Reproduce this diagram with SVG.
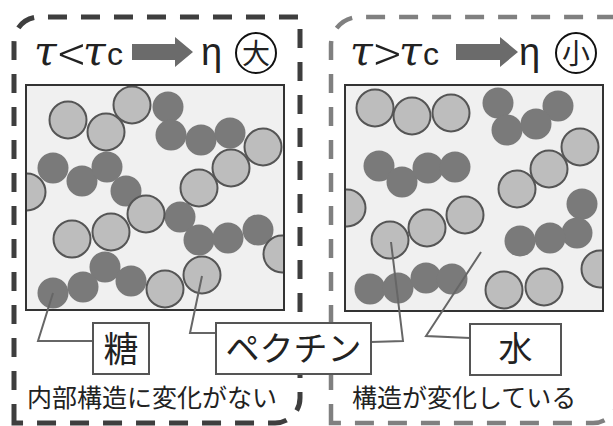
<svg xmlns="http://www.w3.org/2000/svg" width="613" height="426" viewBox="0 0 613 426">
<defs>
<style>
.frameL{fill:none;stroke:#3e3e3e;stroke-width:5;stroke-dasharray:19 14}
.frameR{fill:none;stroke:#808080;stroke-width:4.5;stroke-dasharray:19 14}
.box{fill:#f0f0f0;stroke:#333;stroke-width:2}
.p{fill:#bdbdbd;stroke:#555;stroke-width:2}
.s{fill:#7a7a7a}
.lbl{fill:#fff;stroke:#555;stroke-width:2}
.conn{fill:none;stroke:#666;stroke-width:2}
.jp{font-family:"Noto Sans CJK JP","Noto Sans",sans-serif;fill:#222}
.tau{font-family:"DejaVu Serif","Liberation Serif",serif;font-style:italic;font-size:41px;fill:#222}
.op{font-family:"Noto Sans CJK JP","Noto Sans",sans-serif;font-weight:300;font-size:50px;fill:#222}
.sans{font-family:"Liberation Sans",sans-serif;fill:#222}
.arrow{fill:#6b6b6b}
.ring{fill:none;stroke:#111;stroke-width:2}
</style>
<clipPath id="clipL"><rect x="27" y="86" width="256" height="223"/></clipPath>
<clipPath id="clipR"><rect x="346" y="86" width="256" height="224"/></clipPath>
</defs>
<rect width="613" height="426" fill="#fff"/>

<g id="frame-left">
<path class="frameL" d="M14,423 V42 A25,25 0 0 1 39,17 H300 V398 A25,25 0 0 1 275,423 Z"/>
</g>
<g id="frame-right">
<path class="frameR" d="M331,423 V45 A28,28 0 0 1 359,17 H618 V398 A25,25 0 0 1 593,423 Z"/>
</g>

<g id="header-left">
<text y="65"><tspan class="tau" x="34">τ</tspan><tspan class="op" x="58" y="73">&lt;</tspan><tspan class="tau" x="83" y="65">τ</tspan><tspan class="sans" x="107" font-size="32">c</tspan></text>
<polygon class="arrow" points="132,44 175,44 175,37 193,52 175,67 175,60 132,60"/>
<text class="sans" x="201" y="65" font-size="38">η</text>
<circle class="ring" cx="256" cy="53" r="20"/>
<text class="jp" x="256" y="63.5" font-size="28" text-anchor="middle">大</text>
</g>

<g id="header-right">
<text y="65"><tspan class="tau" x="350">τ</tspan><tspan class="op" x="374" y="73">&gt;</tspan><tspan class="tau" x="399" y="65">τ</tspan><tspan class="sans" x="423" font-size="32">c</tspan></text>
<polygon class="arrow" points="456,44 500,44 500,37 518,52 500,67 500,60 456,60"/>
<text class="sans" x="519" y="65" font-size="38">η</text>
<circle class="ring" cx="576" cy="53" r="20"/>
<text class="jp" x="576" y="63.5" font-size="28" text-anchor="middle">小</text>
</g>

<g id="box-left">
<rect class="box" x="26" y="85" width="258" height="225"/>
<g clip-path="url(#clipL)">
<circle class="s" cx="168" cy="107" r="15.5"/>
<circle class="s" cx="171" cy="135" r="15.5"/>
<circle class="s" cx="201" cy="140" r="15.5"/>
<circle class="s" cx="230" cy="133" r="15.5"/>
<circle class="s" cx="53" cy="168" r="15.5"/>
<circle class="s" cx="82" cy="181" r="15.5"/>
<circle class="s" cx="107" cy="167" r="15.5"/>
<circle class="s" cx="126" cy="191" r="15.5"/>
<circle class="s" cx="180" cy="217" r="15.5"/>
<circle class="s" cx="199" cy="240" r="15.5"/>
<circle class="s" cx="228" cy="238" r="15.5"/>
<circle class="s" cx="258" cy="230" r="15.5"/>
<circle class="s" cx="105" cy="267" r="15.5"/>
<circle class="s" cx="83" cy="287" r="15.5"/>
<circle class="s" cx="131" cy="281" r="15.5"/>
<circle class="s" cx="53" cy="293" r="15.5"/>
<circle class="p" cx="68" cy="120" r="18.5"/>
<circle class="p" cx="106" cy="132" r="18.5"/>
<circle class="p" cx="132" cy="105" r="18.5"/>
<circle class="p" cx="263" cy="147" r="18.5"/>
<circle class="p" cx="231" cy="168" r="18.5"/>
<circle class="p" cx="199" cy="188" r="18.5"/>
<circle class="p" cx="27" cy="192" r="18.5"/>
<circle class="p" cx="146" cy="214" r="18.5"/>
<circle class="p" cx="72" cy="239" r="18.5"/>
<circle class="p" cx="111" cy="232" r="18.5"/>
<circle class="p" cx="282" cy="254" r="18.5"/>
<circle class="p" cx="165" cy="289" r="18.5"/>
<circle class="p" cx="202" cy="275" r="18.5"/>
</g>
<rect x="26" y="85" width="258" height="225" fill="none" stroke="#333" stroke-width="2"/>
</g>

<g id="box-right">
<rect class="box" x="345" y="85" width="258" height="226"/>
<g clip-path="url(#clipR)">
<circle class="s" cx="498" cy="103" r="15.5"/>
<circle class="s" cx="558" cy="106" r="15.5"/>
<circle class="s" cx="507" cy="130" r="15.5"/>
<circle class="s" cx="536" cy="124" r="15.5"/>
<circle class="s" cx="379" cy="166" r="15.5"/>
<circle class="s" cx="402" cy="182" r="15.5"/>
<circle class="s" cx="428" cy="168" r="15.5"/>
<circle class="s" cx="455" cy="167" r="15.5"/>
<circle class="s" cx="582" cy="204" r="15.5"/>
<circle class="s" cx="577" cy="233" r="15.5"/>
<circle class="s" cx="550" cy="238" r="15.5"/>
<circle class="s" cx="520" cy="241" r="15.5"/>
<circle class="s" cx="370" cy="289" r="15.5"/>
<circle class="s" cx="398" cy="288" r="15.5"/>
<circle class="s" cx="426" cy="278" r="15.5"/>
<circle class="s" cx="452" cy="279" r="15.5"/>
<circle class="p" cx="375" cy="108" r="18.5"/>
<circle class="p" cx="412" cy="116" r="18.5"/>
<circle class="p" cx="451" cy="113" r="18.5"/>
<circle class="p" cx="580" cy="147" r="18.5"/>
<circle class="p" cx="549" cy="169" r="18.5"/>
<circle class="p" cx="517" cy="189" r="18.5"/>
<circle class="p" cx="347" cy="208" r="18.5"/>
<circle class="p" cx="465" cy="215" r="18.5"/>
<circle class="p" cx="427" cy="228" r="18.5"/>
<circle class="p" cx="390" cy="240" r="18.5"/>
<circle class="p" cx="600" cy="269" r="18.5"/>
<circle class="p" cx="504" cy="290" r="18.5"/>
<circle class="p" cx="544" cy="287" r="18.5"/>
</g>
<rect x="345" y="85" width="258" height="226" fill="none" stroke="#333" stroke-width="2"/>
</g>

<g id="connectors">
<polyline class="conn" points="53,293 38,341 93,341"/>
<polyline class="conn" points="202,276 190,333 216,333"/>
<polyline class="conn" points="391,242 403,341 371,342"/>
<polyline class="conn" points="481,252 426,336 470,338"/>
</g>

<g id="label-sugar">
<rect class="lbl" x="93" y="323" width="56" height="51"/>
<text class="jp" x="121" y="362" font-size="35" text-anchor="middle">糖</text>
</g>
<g id="label-pectin">
<rect class="lbl" x="216" y="323" width="155" height="51"/>
<text class="jp" x="293.5" y="361" font-size="34" text-anchor="middle">ペクチン</text>
</g>
<g id="label-water">
<rect class="lbl" x="470" y="324" width="91" height="51"/>
<text class="jp" x="515.5" y="361" font-size="34" text-anchor="middle">水</text>
</g>

<g id="caption-left">
<text class="jp" x="27" y="407" font-size="25" fill="#333">内部構造に変化がない</text>
</g>
<g id="caption-right">
<text class="jp" x="352" y="407" font-size="25" fill="#333">構造が変化している</text>
</g>
</svg>
